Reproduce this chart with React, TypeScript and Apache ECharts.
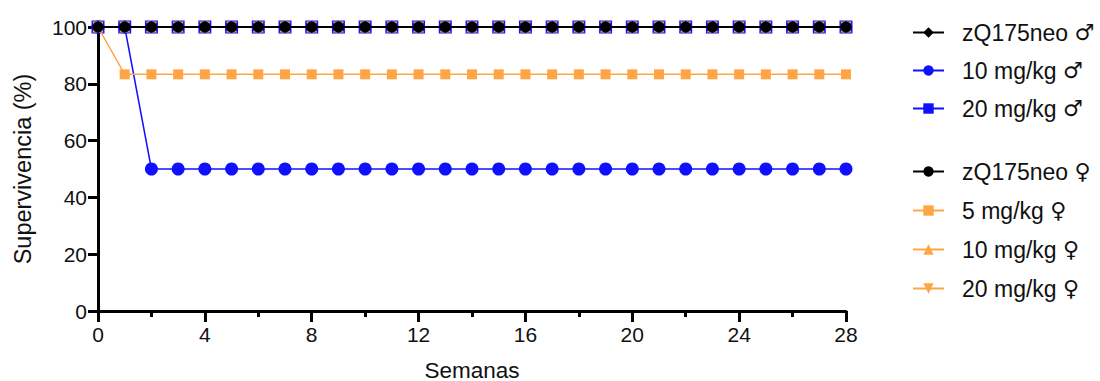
import React, { useEffect, useRef } from "react";
import * as echarts from "echarts";

const weeks = [0, 1, 2, 3, 4, 5, 6, 7, 8, 9, 10, 11, 12, 13, 14, 15, 16, 17, 18, 19, 20, 21, 22, 23, 24, 25, 26, 27, 28];

const zqMale = [100, 100, 100, 100, 100, 100, 100, 100, 100, 100, 100, 100, 100, 100, 100, 100, 100, 100, 100, 100, 100, 100, 100, 100, 100, 100, 100, 100, 100];
const mg10Male = [100, 100, 50, 50, 50, 50, 50, 50, 50, 50, 50, 50, 50, 50, 50, 50, 50, 50, 50, 50, 50, 50, 50, 50, 50, 50, 50, 50, 50];
const mg20Male = [100, 100, 100, 100, 100, 100, 100, 100, 100, 100, 100, 100, 100, 100, 100, 100, 100, 100, 100, 100, 100, 100, 100, 100, 100, 100, 100, 100, 100];
const zqFemale = [100, 100, 100, 100, 100, 100, 100, 100, 100, 100, 100, 100, 100, 100, 100, 100, 100, 100, 100, 100, 100, 100, 100, 100, 100, 100, 100, 100, 100];
const mg5Female = [100, 83.33, 83.33, 83.33, 83.33, 83.33, 83.33, 83.33, 83.33, 83.33, 83.33, 83.33, 83.33, 83.33, 83.33, 83.33, 83.33, 83.33, 83.33, 83.33, 83.33, 83.33, 83.33, 83.33, 83.33, 83.33, 83.33, 83.33, 83.33];
const mg10Female = [100, 100, 100, 100, 100, 100, 100, 100, 100, 100, 100, 100, 100, 100, 100, 100, 100, 100, 100, 100, 100, 100, 100, 100, 100, 100, 100, 100, 100];
const mg20Female = [100, 100, 100, 100, 100, 100, 100, 100, 100, 100, 100, 100, 100, 100, 100, 100, 100, 100, 100, 100, 100, 100, 100, 100, 100, 100, 100, 100, 100];

const maleNames = ["zQ175neo ♂", "10 mg/kg ♂", "20 mg/kg ♂"];
const femaleNames = ["zQ175neo ♀", "5 mg/kg ♀", "10 mg/kg ♀", "20 mg/kg ♀"];

const BLUE = "#1010ff";
const ORANGE = "#ffa545";
const BLACK = "#000000";
const FONT = "'Liberation Sans', Arial, sans-serif";

const pairs = (ys: number[]) => weeks.map((w, i) => [w, ys[i]]);

export default function App() {
  const ref = useRef<HTMLDivElement>(null);
  useEffect(() => {
    if (!ref.current) return;
    const chart = echarts.init(ref.current, null, { renderer: "svg" });
    const mk = (name: string, ys: number[], color: string, symbol: string, size: number, z: number, rotate = 0) => ({
      name,
      type: "line",
      data: pairs(ys),
      symbol,
      symbolSize: size,
      symbolRotate: rotate,
      showAllSymbol: true,
      z,
      lineStyle: { color, width: color === BLACK ? 2 : 1.5 },
      itemStyle: { color, borderWidth: 0 },
      emphasis: { disabled: true },
    });
    const legendCommon = {
      orient: "vertical",
      left: 912,
      padding: 0,
      itemWidth: 31,
      itemHeight: 13,
      formatter: (name: string) => {
        const sym = name.slice(-1);
        const txt = name.slice(0, -2);
        return `{t|${txt}} {s|${sym}}`;
      },
      textStyle: {
        fontFamily: FONT,
        fontSize: 23,
        color: "#111",
        padding: [0, 0, 0, 13],
        rich: {
          t: { fontFamily: FONT, fontSize: 23, color: "#111", lineHeight: 26 },
          s: { fontFamily: "'DejaVu Sans', sans-serif", fontSize: 22, color: "#111", lineHeight: 26 },
        },
      },
    };
    chart.setOption({
      animation: false,
      textStyle: { fontFamily: FONT },
      grid: { left: 98, right: 254, top: 27, bottom: 70, containLabel: false, outerBoundsMode: "none" },
      legend: [
        { ...legendCommon, top: 21, itemGap: 15, data: maleNames },
        { ...legendCommon, top: 160, itemGap: 16, data: femaleNames },
      ],
      xAxis: {
        type: "value",
        min: 0,
        max: 28,
        interval: 4,
        name: "Semanas",
        nameLocation: "middle",
        nameGap: 50,
        nameTextStyle: { fontFamily: FONT, fontSize: 22.5, color: "#111", lineHeight: 18 },
        axisLine: { show: true, onZero: false, lineStyle: { color: "#000", width: 3 } },
        axisTick: { show: true, length: 11, lineStyle: { color: "#000", width: 3 } },
        minorTick: { show: true, splitNumber: 2, length: 6, lineStyle: { color: "#000", width: 3 } },
        axisLabel: { fontFamily: FONT, fontSize: 21, color: "#111", margin: 13 },
        splitLine: { show: false },
      },
      yAxis: {
        type: "value",
        min: 0,
        max: 100,
        interval: 20,
        name: "Supervivencia (%)",
        nameLocation: "middle",
        nameGap: 63,
        nameTextStyle: { fontFamily: FONT, fontSize: 23.5, color: "#111" },
        axisLine: { show: true, onZero: false, lineStyle: { color: "#000", width: 3 } },
        axisTick: { show: true, length: 10, lineStyle: { color: "#000", width: 3 } },
        axisLabel: { fontFamily: FONT, fontSize: 21, color: "#111", margin: 11 },
        splitLine: { show: false },
      },
      series: [
        mk(maleNames[2], mg20Male, BLUE, "rect", 13, 2),
        mk(maleNames[1], mg10Male, BLUE, "circle", 13, 3),
        mk(femaleNames[1], mg5Female, ORANGE, "rect", 10, 4),
        mk(femaleNames[2], mg10Female, ORANGE, "triangle", 11, 5),
        mk(femaleNames[3], mg20Female, ORANGE, "triangle", 11, 6, 180),
        mk(maleNames[0], zqMale, BLACK, "diamond", 12, 7),
        mk(femaleNames[0], zqFemale, BLACK, "circle", 11, 8),
      ],
    });
    return () => chart.dispose();
  }, []);
  return <div ref={ref} style={{ width: 1100, height: 381, position: "absolute", left: 0, top: 0 }} />;
}
